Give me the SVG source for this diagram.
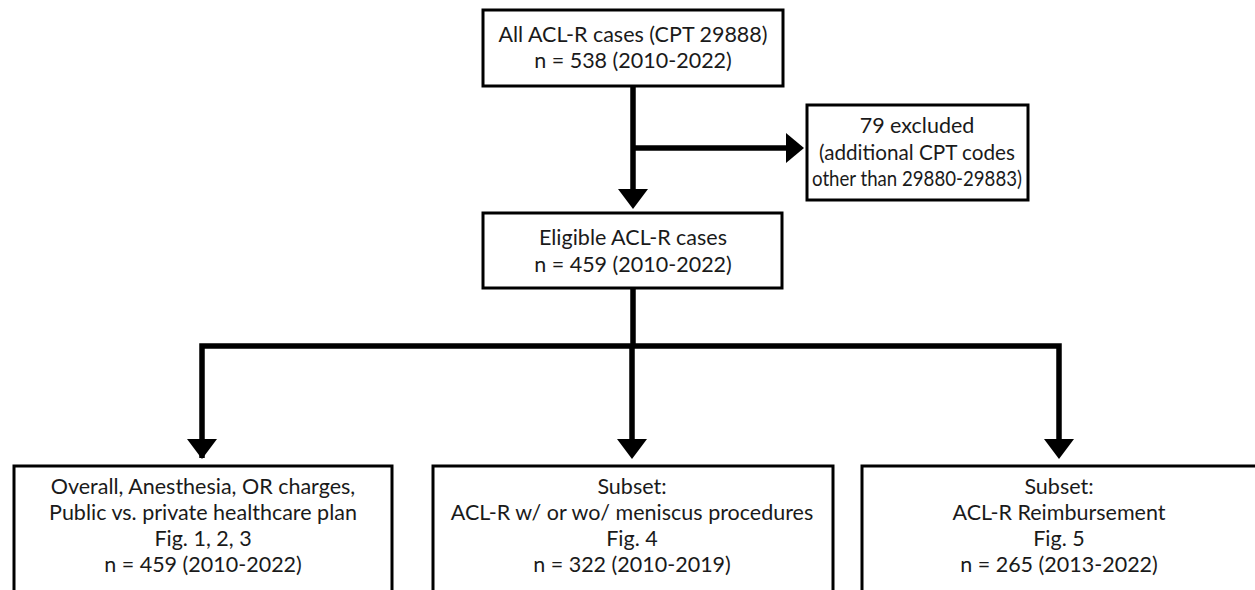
<svg xmlns="http://www.w3.org/2000/svg" width="1255" height="590" viewBox="0 0 1255 590">
<style>
.box{fill:#fff;stroke:#000;stroke-width:3}
.t{font-family:Lato,"Liberation Sans",sans-serif;font-size:21.5px;fill:#1a1a1a;text-anchor:middle}
.ln{fill:none;stroke:#000;stroke-width:5.5}
.ah{fill:#000}
</style>
<rect width="1255" height="590" fill="#fff"/>
<g id="connectors">
<line class="ln" x1="633" y1="87" x2="633" y2="190"/>
<line class="ln" x1="633" y1="148" x2="787" y2="148"/>
<polygon class="ah" points="786,133 804,148 786,163"/>
<polygon class="ah" points="618,189 648,189 633,209"/>
<path class="ln" d="M633,289 V346 M202,458 V346 H1059 V440 M632,346 V440 M202,346 V440"/>
<polygon class="ah" points="187,439 217,439 202,459"/>
<polygon class="ah" points="617,439 647,439 632,459"/>
<polygon class="ah" points="1044,439 1074,439 1059,459"/>
</g>
<g id="n1"><rect class="box" x="483" y="10" width="300" height="76"/>
<text class="t" x="633" y="42">All ACL-R cases (CPT 29888)</text>
<text class="t" x="633" y="68">n = 538 (2010-2022)</text></g>
<g id="n2"><rect class="box" x="807" y="105" width="221" height="95"/>
<text class="t" x="917" y="133">79 excluded</text>
<text class="t" x="917" y="160" textLength="196" lengthAdjust="spacingAndGlyphs">(additional CPT codes</text>
<text class="t" x="917" y="186" textLength="210" lengthAdjust="spacingAndGlyphs">other than 29880-29883)</text></g>
<g id="n3"><rect class="box" x="483" y="213" width="299" height="75"/>
<text class="t" x="633" y="245">Eligible ACL-R cases</text>
<text class="t" x="633" y="272">n = 459 (2010-2022)</text></g>
<g id="n4"><rect class="box" x="14" y="466" width="378" height="140"/>
<text class="t" x="203" y="494">Overall, Anesthesia, OR charges,</text>
<text class="t" x="203" y="520">Public vs. private healthcare plan</text>
<text class="t" x="203" y="546">Fig. 1, 2, 3</text>
<text class="t" x="203" y="572">n = 459 (2010-2022)</text></g>
<g id="n5"><rect class="box" x="433" y="466" width="400" height="140"/>
<text class="t" x="632" y="494">Subset:</text>
<text class="t" x="632" y="520">ACL-R w/ or wo/ meniscus procedures</text>
<text class="t" x="632" y="546">Fig. 4</text>
<text class="t" x="632" y="572">n = 322 (2010-2019)</text></g>
<g id="n6"><rect class="box" x="862" y="466" width="396" height="140"/>
<text class="t" x="1059" y="494">Subset:</text>
<text class="t" x="1059" y="520">ACL-R Reimbursement</text>
<text class="t" x="1059" y="546">Fig. 5</text>
<text class="t" x="1059" y="572">n = 265 (2013-2022)</text></g>
</svg>
